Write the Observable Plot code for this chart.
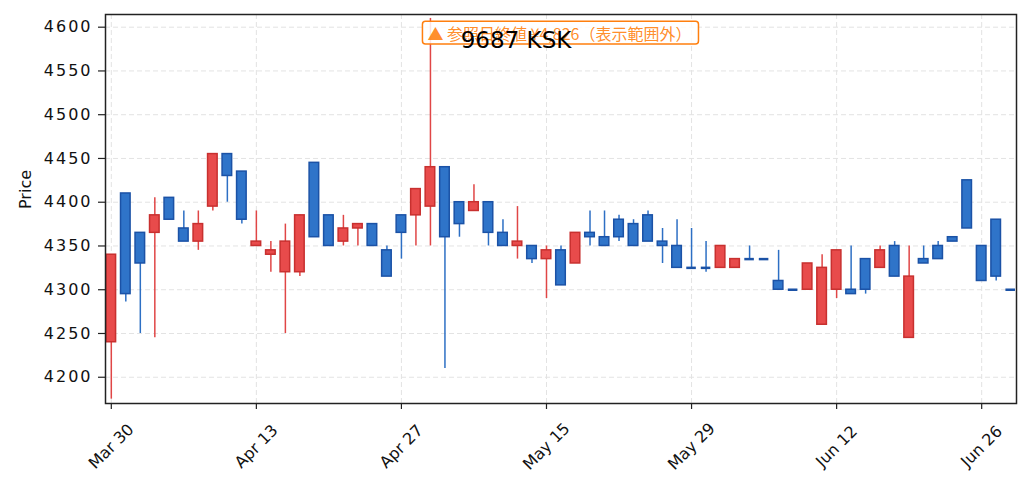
<!DOCTYPE html>
<html><head><meta charset="utf-8">
<script src="https://cdn.jsdelivr.net/npm/d3@7"></script>
<script src="https://cdn.jsdelivr.net/npm/@observablehq/plot@0.6"></script>
<style>
body{margin:0;background:#fff;}
#chart svg{font-family:"DejaVu Sans",sans-serif;}
g[aria-label="y-axis tick label"] text{letter-spacing:2px;}
g[aria-label="xlab"] text{letter-spacing:1px;}
</style></head><body><div id="chart"></div><script>
const title = "9687 KSK";
const yLabel = "Price";
const annotText = "▲ 参照日終値 ¥4,826（表示範囲外）";
const refDate = "2020-04-30";
const dates = [
 "2020-03-30","2020-03-31","2020-04-01","2020-04-02","2020-04-03","2020-04-06","2020-04-07","2020-04-08","2020-04-09","2020-04-10",
 "2020-04-13","2020-04-14","2020-04-15","2020-04-16","2020-04-17","2020-04-20","2020-04-21","2020-04-22","2020-04-23","2020-04-24",
 "2020-04-27","2020-04-28","2020-04-30","2020-05-01","2020-05-07","2020-05-08","2020-05-11","2020-05-12","2020-05-13","2020-05-14",
 "2020-05-15","2020-05-18","2020-05-19","2020-05-20","2020-05-21","2020-05-22","2020-05-25","2020-05-26","2020-05-27","2020-05-28",
 "2020-05-29","2020-06-01","2020-06-02","2020-06-03","2020-06-04","2020-06-05","2020-06-08","2020-06-09","2020-06-10","2020-06-11",
 "2020-06-12","2020-06-15","2020-06-16","2020-06-17","2020-06-18","2020-06-19","2020-06-22","2020-06-23","2020-06-24","2020-06-25",
 "2020-06-26","2020-06-29","2020-06-30"];
const open  = [4240,4410,4365,4365,4405,4370,4355,4395,4455,4435, 4350,4340,4320,4320,4445,4385,4355,4370,4375,4345,
               4385,4385,4395,4440,4400,4390,4400,4365,4350,4350, 4335,4345,4330,4365,4360,4380,4375,4385,4355,4350,
               4325,4325,4325,4325,4335,4335,4310,4300,4300,4260, 4300,4300,4335,4325,4350,4245,4335,4350,4360,4425,
               4350,4380,4300];
const high  = [4340,4410,4365,4405,4405,4390,4390,4455,4455,4435, 4390,4355,4375,4385,4445,4385,4385,4375,4375,4350,
               4385,4415,4610,4440,4400,4420,4400,4380,4395,4350, 4350,4350,4365,4390,4390,4385,4380,4390,4370,4380,
               4370,4355,4350,4335,4350,4335,4345,4300,4330,4340, 4345,4350,4335,4350,4355,4350,4350,4355,4360,4425,
               4350,4380,4300];
const low   = [4175,4286,4250,4245,4380,4355,4345,4390,4400,4375, 4350,4320,4250,4315,4360,4350,4350,4350,4350,4315,
               4335,4350,4350,4210,4360,4390,4350,4350,4335,4330, 4290,4305,4330,4350,4350,4355,4350,4355,4330,4325,
               4325,4320,4325,4325,4335,4335,4300,4300,4300,4260, 4290,4295,4295,4325,4315,4245,4330,4335,4355,4370,
               4310,4310,4300];
const close = [4340,4295,4330,4385,4380,4355,4375,4455,4430,4380, 4355,4345,4355,4385,4360,4350,4370,4375,4350,4315,
               4365,4415,4440,4360,4375,4400,4365,4350,4355,4335, 4345,4305,4365,4360,4350,4360,4350,4355,4350,4325,
               4325,4325,4350,4335,4335,4335,4300,4300,4330,4325, 4345,4295,4300,4345,4315,4315,4330,4335,4355,4370,
               4310,4315,4300];
const yTicks = [4200,4250,4300,4350,4400,4450,4500,4550,4600];
const tickEvery = 10;

const upFill = "#e84b4b", upEdge = "#c8302f", upWick = "#e04646";
const dnFill = "#2f74c9", dnEdge = "#1b52a6", dnWick = "#2d6fc4";
const orange = "#ff7f0e";
const half = 0.33;

const fmt = d3.utcFormat("%b %-d");
const data = dates.map((d, i) => ({i, date: d, o: open[i], h: high[i], l: low[i], c: close[i], up: close[i] > open[i]}));
const tickIdx = data.filter(d => d.i % tickEvery === 0).map(d => d.i);
const xLabels = tickIdx.map(i => ({i, label: fmt(new Date(dates[i]))}));
const refIdx = dates.indexOf(refDate);
const flat = data.filter(d => d.o === d.c);

const plot = Plot.plot({
  width: 1031, height: 492,
  marginLeft: 105, marginRight: 15, marginTop: 14, marginBottom: 89,
  style: {fontFamily: "DejaVu Sans", fontSize: "16px", background: "#fff"},
  x: {type: "linear", domain: [-0.4, 62.4], axis: null},
  y: {domain: [4170, 4614.5], axis: null},
  color: {type: "identity"},
  marks: [
    Plot.gridY(yTicks, {stroke: "#e3e3e3", strokeOpacity: 1, strokeWidth: 1, strokeDasharray: "5,3"}),
    Plot.gridX(tickIdx, {stroke: "#e3e3e3", strokeOpacity: 1, strokeWidth: 1, strokeDasharray: "5,3"}),
    Plot.ruleX(data, {x: "i", y1: "l", y2: "h", stroke: d => d.up ? upWick : dnWick, strokeWidth: 1.5}),
    Plot.rect(data.filter(d => d.o !== d.c), {x1: d => d.i - half, x2: d => d.i + half, y1: "o", y2: "c",
      fill: d => d.up ? upFill : dnFill, stroke: d => d.up ? upEdge : dnEdge, strokeWidth: 1.5}),
    Plot.ruleY(flat, {y: "c", x1: d => d.i - half, x2: d => d.i + half, stroke: dnEdge, strokeWidth: 2.5}),
    Plot.axisY({ticks: yTicks, tickSize: 7, tickPadding: 6, fontSize: 16, label: null, tickFormat: d => String(d),
      stroke: "#222", strokeWidth: 1.2, fill: "#111"}),
    Plot.axisX({ticks: tickIdx, tickSize: 6, tickFormat: () => "", label: null, stroke: "#222", strokeWidth: 1.2}),
    Plot.text(xLabels, {x: "i", text: "label", frameAnchor: "bottom", rotate: -45, textAnchor: "middle",
      lineAnchor: "middle", dy: 43, fontSize: 16, fill: "#111", ariaLabel: "xlab"}),
    Plot.text([yLabel], {text: d => d, frameAnchor: "left", rotate: -90, dx: -80, fontSize: 16, fill: "#111"}),
    Plot.frame({stroke: "#222", strokeWidth: 1.5}),
    Plot.text([{i: refIdx, label: annotText}], {x: "i", text: "label", frameAnchor: "top", lineAnchor: "middle",
      dy: 20, dx: -3, textAnchor: "start", fill: orange, fillOpacity: 0.9, fontSize: 16,
      fontFamily: "Noto Sans CJK JP", ariaLabel: "annot"}),
    Plot.text([title], {text: d => d, frameAnchor: "top", lineAnchor: "middle", dy: 26, dx: -45, fontSize: 23, fill: "#000"})
  ]
});
document.getElementById("chart").append(plot);

// rounded box behind the annotation text
const t = Array.from(plot.querySelectorAll("text")).find(e => e.textContent === annotText);
if (t) {
  const bb = t.getBBox();
  const cy = bb.y + bb.height / 2;
  const r = document.createElementNS("http://www.w3.org/2000/svg", "rect");
  r.setAttribute("x", bb.x - 5);
  r.setAttribute("y", cy - 11.3);
  r.setAttribute("width", bb.width + 12);
  r.setAttribute("height", 22.6);
  r.setAttribute("rx", 3);
  r.setAttribute("fill", "#fff");
  r.setAttribute("fill-opacity", 0.85);
  r.setAttribute("stroke", orange);
  r.setAttribute("stroke-opacity", 1);
  r.setAttribute("stroke-width", 1.5);
  const tr = t.getAttribute("transform");
  if (tr) r.setAttribute("transform", tr);
  t.parentNode.insertBefore(r, t);
}
</script></body></html>
